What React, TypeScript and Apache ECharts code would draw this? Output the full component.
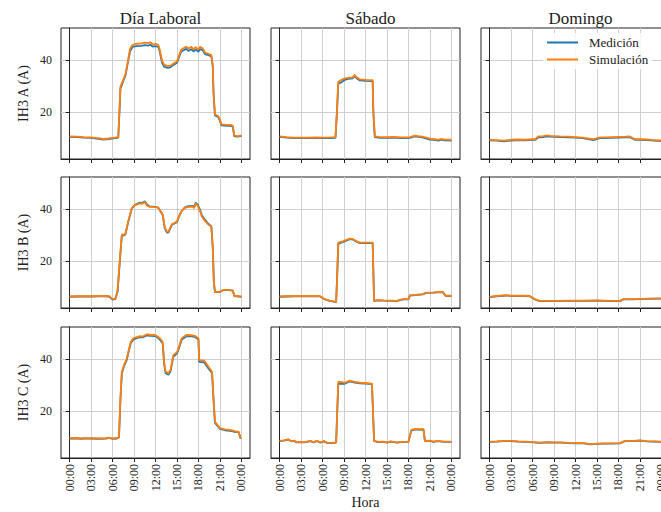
import React, { useEffect, useRef } from "react";
import * as echarts from "echarts";

type P = [number, number][];

const dayTitles = ["Día Laboral", "Sábado", "Domingo"];
const rowLabels = ["IH3 A (A)", "IH3 B (A)", "IH3 C (A)"];
const xTickValues = [0, 3, 6, 9, 12, 15, 18, 21, 24];
const yTickValues = [20, 40];
const seriesNames = ["Medición", "Simulación"];

// Día Laboral
const labA_med: P = [[0,10.3],[1,10.2],[2,10.0],[3,9.9],[4,9.6],[4.7,9.3],[5.5,9.5],[6.3,9.8],[6.8,10.0],[7.0,22],[7.1,29],[7.5,32],[7.8,34],[8.1,38.5],[8.45,43.5],[8.8,45.2],[9.3,45.5],[10,45.6],[10.5,45.9],[11,45.7],[11.3,46.0],[11.6,45.3],[12,45.5],[12.4,45.2],[12.6,43.2],[12.9,39.2],[13.2,37.5],[13.6,37.1],[14,37.2],[14.4,38],[15.0,39],[15.3,41.3],[15.6,43.4],[16,44],[16.3,44.4],[16.6,43.6],[17,44.3],[17.3,43.4],[17.6,44.2],[18,43.3],[18.2,44.3],[18.6,43.9],[18.9,42.4],[19.4,42],[19.8,41.5],[20.0,37.5],[20.1,27.5],[20.3,18.6],[20.75,18.1],[21.0,16.6],[21.2,14.8],[22,14.6],[22.5,14.6],[22.8,14.3],[23.0,10.5],[23.5,10.4],[24,10.7]];
const labA_sim: P = [[0,10.5],[1,10.4],[2,10.2],[3,10.1],[4,9.8],[4.7,9.5],[5.5,9.7],[6.3,10.0],[6.8,10.2],[7.0,23],[7.1,29.8],[7.5,32.5],[7.8,34.5],[8.1,39],[8.45,44.5],[8.8,46],[9.3,46.4],[10,46.5],[10.5,46.8],[11,46.6],[11.3,47],[11.6,46.1],[12,46.4],[12.4,46],[12.6,44],[12.9,40],[13.2,38.3],[13.6,37.8],[14,37.8],[14.4,38.5],[15.0,39.5],[15.3,42],[15.6,44.2],[16,44.8],[16.3,45.3],[16.6,44.5],[17,45.2],[17.3,44.2],[17.6,45.1],[18,44.2],[18.2,45.2],[18.6,44.6],[18.9,43],[19.4,42.5],[19.8,42],[20.0,38],[20.1,28],[20.3,19],[20.75,18.4],[21.0,17],[21.2,15.2],[22,15],[22.5,15],[22.8,14.6],[23.0,10.8],[23.5,10.6],[24,10.9]];
const labB_med: P = [[0,6.1],[1,6.2],[2,6.2],[3,6.2],[4,6.3],[5,6.3],[5.5,6.2],[6.0,5.0],[6.4,5.2],[6.7,8.0],[7.0,19],[7.3,30.0],[7.5,29.8],[7.8,30.2],[8.2,35.2],[8.7,40.4],[9.2,41.8],[9.8,42.6],[10.2,42.5],[10.5,43.1],[10.8,41.9],[11.2,41.1],[12.0,40.9],[12.4,40.6],[13.0,37.8],[13.3,32.6],[13.6,31.0],[13.8,31.0],[14.3,34.0],[15.0,35.0],[15.3,37.3],[15.65,39.3],[16.1,40.7],[16.6,41.2],[17.2,41.3],[17.4,40.8],[17.6,42.5],[17.9,41.8],[18.2,40.0],[18.5,37.5],[18.9,36.0],[19.4,34.3],[19.8,33.4],[20.0,25],[20.15,11.8],[20.3,7.9],[21,7.9],[21.5,8.7],[22.2,8.7],[22.8,8.5],[23.0,6.4],[24,6.1]];
const labB_sim: P = [[0,6.2],[1,6.3],[2,6.3],[3,6.3],[4,6.4],[5,6.4],[5.5,6.3],[6.0,5.2],[6.4,5.4],[6.7,8.4],[7.0,20],[7.3,30.3],[7.5,30.0],[7.8,30.5],[8.2,35.5],[8.7,40.6],[9.2,41.6],[9.8,42.3],[10.2,42.2],[10.5,42.8],[10.8,41.5],[11.2,40.9],[12.0,40.8],[12.4,40.6],[13.0,38],[13.3,32.9],[13.6,31.3],[13.8,31.2],[14.3,34.2],[15.0,35.2],[15.3,37.5],[15.65,39.4],[16.1,40.5],[16.6,40.9],[17.2,41.0],[17.4,40.4],[17.6,42.2],[17.9,41.4],[18.2,39.4],[18.5,37],[18.9,35.5],[19.4,34],[19.8,33.3],[20.0,25.2],[20.15,12],[20.3,8.0],[21,8.0],[21.5,8.8],[22.2,8.8],[22.8,8.6],[23.0,6.5],[24,6.2]];
const labC_med: P = [[0,9.3],[1,9.4],[1.5,9.2],[2,9.3],[3,9.3],[4,9.2],[5,9.3],[5.5,9.5],[6,9.2],[6.6,9.3],[6.9,9.7],[7.1,24],[7.3,34.6],[7.6,37.3],[8.0,39.9],[8.3,43.5],[8.55,46.3],[8.9,47.6],[9.3,48.1],[9.8,48.6],[10.2,48.5],[10.8,49.3],[11.3,49.1],[11.9,49.0],[12.3,48.4],[12.6,47.6],[13.0,46.2],[13.2,38.5],[13.4,34.6],[13.8,34.0],[14.1,35.3],[14.5,41.1],[15.0,42.2],[15.3,44.5],[15.65,47.6],[16.3,48.9],[17.0,48.9],[17.5,48.7],[18.0,47.6],[18.1,39.0],[18.8,38.8],[19.4,36.4],[19.9,34.6],[20.1,24.5],[20.3,15.4],[21.0,13.0],[21.7,12.5],[22.4,12.3],[23.3,11.8],[23.6,11.8],[23.9,9.2]];
const labC_sim: P = [[0,9.4],[1,9.5],[1.5,9.3],[2,9.4],[3,9.4],[4,9.3],[5,9.4],[5.5,9.6],[6,9.3],[6.6,9.4],[6.9,9.9],[7.1,25],[7.3,35.2],[7.6,37.8],[8.0,40.4],[8.3,44],[8.55,46.8],[8.9,48.1],[9.3,48.5],[9.8,49],[10.2,48.8],[10.8,49.7],[11.3,49.4],[11.9,49.4],[12.3,48.8],[12.6,48.1],[13.0,46.8],[13.2,39.1],[13.4,35.2],[13.8,34.6],[14.1,35.9],[14.5,41.7],[15.0,42.7],[15.3,45],[15.65,48.1],[16.3,49.4],[17.0,49.3],[17.5,49.1],[18.0,48.1],[18.1,39.7],[18.8,39.5],[19.4,37.1],[19.9,35.2],[20.1,25],[20.3,15.9],[21.0,13.3],[21.7,12.8],[22.4,12.6],[23.3,12.0],[23.6,12.0],[23.9,9.4]];

// Sábado
const satA_med: P = [[0,10.3],[1,10.0],[2,9.8],[3,9.8],[4,9.8],[5,9.9],[6,9.8],[7,9.8],[7.8,9.9],[8.0,19],[8.2,30.9],[8.6,31.4],[9.1,32.4],[9.6,32.8],[10.2,33.0],[10.5,33.9],[10.8,32.9],[11.2,32.2],[12,32.0],[13.0,31.9],[13.1,19.5],[13.3,10.2],[14,9.9],[15,9.9],[16,10.0],[17,9.8],[18.2,9.9],[18.9,10.5],[19.4,10.3],[19.8,10.2],[21.0,9.3],[21.5,9.2],[22.2,8.9],[22.5,9.2],[23,9.0],[24,8.9]];
const satA_sim: P = [[0,10.5],[1,10.2],[2,10.0],[3,10.0],[4,10.0],[5,10.1],[6,10.0],[7,10.1],[7.8,10.2],[8.0,20],[8.2,31.7],[8.6,32.3],[9.1,33.0],[9.6,33.2],[10.2,33.4],[10.5,34.3],[10.8,33.3],[11.2,32.6],[12,32.4],[13.0,32.3],[13.1,20],[13.3,10.5],[14,10.2],[15,10.2],[16,10.3],[17,10.1],[18.2,10.2],[18.9,10.8],[19.4,10.6],[19.8,10.5],[21.0,9.6],[21.5,9.5],[22.2,9.2],[22.5,9.5],[23,9.3],[24,9.2]];
const satB_med: P = [[0,6.1],[1,6.2],[2,6.3],[3,6.3],[4,6.3],[5,6.3],[5.6,6.3],[6.3,5.1],[7.0,4.5],[7.9,4.0],[8.05,14.5],[8.2,26.6],[8.9,27.4],[9.8,28.4],[10.2,28.3],[10.7,27.5],[11.2,26.9],[12,26.9],[13.0,26.9],[13.2,4.4],[13.6,4.7],[14.5,4.6],[15.5,4.5],[16.4,4.4],[16.9,4.9],[17.4,5.1],[18.0,5.1],[18.2,6.6],[19,6.7],[20.0,7.0],[20.5,7.6],[21.5,7.7],[22.8,7.9],[23.2,6.4],[24,6.4]];
const satB_sim: P = [[0,6.2],[1,6.3],[2,6.4],[3,6.4],[4,6.4],[5,6.4],[5.6,6.4],[6.3,5.2],[7.0,4.6],[7.9,4.1],[8.05,15],[8.2,27.1],[8.9,27.7],[9.8,28.6],[10.2,28.5],[10.7,27.7],[11.2,27.1],[12,27.1],[13.0,27.1],[13.2,4.5],[13.6,4.8],[14.5,4.7],[15.5,4.6],[16.4,4.5],[16.9,5.0],[17.4,5.2],[18.0,5.2],[18.2,6.7],[19,6.8],[20.0,7.1],[20.5,7.7],[21.5,7.8],[22.8,8.0],[23.2,6.5],[24,6.5]];
const satC_med: P = [[0,8.3],[0.6,8.5],[1.2,8.9],[1.6,8.2],[2.0,8.4],[2.4,7.8],[3,7.9],[3.5,7.8],[4.3,8.3],[4.7,7.8],[5.2,8.3],[5.7,7.7],[6.2,8.2],[6.6,7.6],[7.3,7.5],[7.9,7.7],[8.05,19.5],[8.2,30.6],[9.1,30.5],[9.8,31.4],[10.5,31.0],[11.2,30.7],[12,30.6],[12.9,30.4],[13.2,8.3],[13.8,7.9],[14.5,8.0],[15,7.7],[15.5,8.1],[16.4,7.7],[17,7.9],[18.0,8.0],[18.4,12.4],[19,12.8],[20.1,12.7],[20.3,8.3],[21,8.4],[21.5,8.0],[22,8.3],[23,8.0],[24,8.0]];
const satC_sim: P = [[0,8.4],[0.6,8.6],[1.2,9.0],[1.6,8.3],[2.0,8.5],[2.4,7.9],[3,8.0],[3.5,7.9],[4.3,8.4],[4.7,7.9],[5.2,8.4],[5.7,7.8],[6.2,8.3],[6.6,7.7],[7.3,7.6],[7.9,7.8],[8.05,20],[8.2,31.3],[9.1,30.9],[9.8,31.7],[10.5,31.2],[11.2,30.9],[12,30.8],[12.9,30.6],[13.2,8.4],[13.8,8.0],[14.5,8.1],[15,7.8],[15.5,8.2],[16.4,7.8],[17,8.0],[18.0,8.1],[18.4,12.6],[19,13.0],[20.1,12.9],[20.3,8.4],[21,8.5],[21.5,8.1],[22,8.4],[23,8.1],[24,8.1]];

// Domingo
const domA_med: P = [[0,9.0],[1,8.9],[2,8.6],[3,8.9],[4,9.1],[5,9.0],[6,9.2],[6.4,9.2],[6.8,10.1],[7.5,10.2],[8,10.5],[8.5,10.4],[9.8,10.2],[11,10.1],[12,10.0],[13,9.8],[14.5,9.1],[15.4,9.8],[16,9.8],[17,9.9],[18,10.0],[19,10.1],[19.6,10.2],[20.3,9.2],[21,9.2],[22,9.1],[23,8.9],[24,8.7]];
const domA_sim: P = [[0,9.2],[1,9.1],[2,8.9],[3,9.2],[4,9.3],[5,9.2],[6,9.4],[6.4,9.4],[6.8,10.5],[7.5,10.6],[8,10.9],[8.5,10.7],[9.8,10.5],[11,10.4],[12,10.2],[13,10.0],[14.5,9.4],[15.4,10.1],[16,10.1],[17,10.2],[18,10.3],[19,10.4],[19.6,10.5],[20.3,9.4],[21,9.4],[22,9.3],[23,9.1],[24,8.9]];
const domB_med: P = [[0,6.0],[1,6.3],[2.4,6.6],[3,6.4],[4,6.4],[5,6.4],[5.6,6.3],[6.3,5.1],[7.0,4.4],[9,4.4],[11,4.5],[13,4.5],[15,4.6],[17,4.4],[18.2,4.4],[18.7,5.1],[20,5.1],[22,5.3],[23.8,5.4],[24,5.4]];
const domB_sim: P = [[0,6.1],[1,6.4],[2.4,6.7],[3,6.5],[4,6.5],[5,6.5],[5.6,6.4],[6.3,5.2],[7.0,4.5],[9,4.5],[11,4.6],[13,4.6],[15,4.7],[17,4.5],[18.2,4.5],[18.7,5.2],[20,5.2],[22,5.4],[23.8,5.5],[24,5.5]];
const domC_med: P = [[0,8.0],[1,8.1],[2,8.3],[2.9,8.3],[4,8.1],[5,8.0],[6.1,7.8],[7,7.6],[8,7.8],[8.9,7.7],[10,7.7],[11,7.5],[12.2,7.4],[13,7.5],[14.0,7.0],[15,7.2],[16,7.3],[17,7.3],[18.2,7.4],[18.9,8.3],[20,8.3],[21,8.5],[22,8.2],[23,8.1],[24,8.0]];
const domC_sim: P = [[0,8.1],[1,8.2],[2,8.4],[2.9,8.4],[4,8.2],[5,8.1],[6.1,7.9],[7,7.7],[8,7.9],[8.9,7.8],[10,7.8],[11,7.6],[12.2,7.5],[13,7.6],[14.0,7.1],[15,7.3],[16,7.4],[17,7.4],[18.2,7.5],[18.9,8.4],[20,8.4],[21,8.6],[22,8.3],[23,8.2],[24,8.1]];

// panels[row][col] = [medición, simulación]
const panels: [P, P][][] = [
  [[labA_med, labA_sim], [satA_med, satA_sim], [domA_med, domA_sim]],
  [[labB_med, labB_sim], [satB_med, satB_sim], [domB_med, domB_sim]],
  [[labC_med, labC_sim], [satC_med, satC_sim], [domC_med, domC_sim]],
];

const FONT = "'Liberation Serif', 'Times New Roman', serif";
const DARK = "#222222";
const GRIDC = "#cfcfcf";
const COLORS = ["#1f77b4", "#ff7f0e"];

const colLeft = [61, 271, 481];
const rowTop = [28, 177, 327];
const PW = 189;
const PH = 131;

function fmtHour(v: number): string {
  const h = Math.round(v) % 24;
  return (h < 10 ? "0" + h : "" + h) + ":00";
}

export default function App() {
  const ref = useRef<HTMLDivElement>(null);
  useEffect(() => {
    if (!ref.current) return;
    const chart = echarts.init(ref.current, undefined, { renderer: "svg" });
    const grid: any[] = [];
    const xAxis: any[] = [];
    const yAxis: any[] = [];
    const series: any[] = [];
    for (let r = 0; r < 3; r++) {
      for (let c = 0; c < 3; c++) {
        const idx = r * 3 + c;
        grid.push({
          left: colLeft[c], top: rowTop[r], width: PW, height: PH,
          outerBoundsMode: "none", containLabel: false,
          show: true, borderColor: DARK, borderWidth: 1, backgroundColor: "transparent",
        });
        xAxis.push({
          type: "value", gridIndex: idx, min: -1.2, max: 25.2,
          axisLine: { show: true, lineStyle: { color: DARK, width: 1 } },
          axisTick: { show: true, length: 4, customValues: xTickValues, lineStyle: { color: DARK } },
          axisLabel: {
            show: r === 2, customValues: xTickValues, rotate: 90, fontSize: 12,
            fontFamily: FONT, color: DARK, margin: 6, formatter: (v: number) => fmtHour(v),
          },
          splitLine: { show: true, lineStyle: { color: GRIDC, width: 1 } },
          name: r === 2 && c === 1 ? "Hora" : "",
          nameLocation: "middle", nameGap: 37,
          nameTextStyle: { fontSize: 14, fontFamily: FONT, color: DARK },
        });
        yAxis.push({
          type: "value", gridIndex: idx, min: 1.75, max: 52.5,
          axisLine: { show: true, lineStyle: { color: DARK, width: 1 } },
          axisTick: { show: true, length: 4, customValues: yTickValues, lineStyle: { color: DARK } },
          axisLabel: {
            show: c === 0, customValues: yTickValues, fontSize: 12,
            fontFamily: FONT, color: DARK, margin: 9,
          },
          splitLine: { show: true, lineStyle: { color: GRIDC, width: 1 } },
          name: c === 0 ? rowLabels[r] : "",
          nameLocation: "middle", nameGap: 31,
          nameTextStyle: { fontSize: 14, fontFamily: FONT, color: DARK },
        });
        const pair = panels[r][c];
        for (let s = 0; s < 2; s++) {
          series.push({
            type: "line", name: seriesNames[s], xAxisIndex: idx, yAxisIndex: idx,
            data: pair[s], showSymbol: false, symbol: "none",
            lineStyle: { color: COLORS[s], width: 1.8 }, itemStyle: { color: COLORS[s] },
            z: 2 + s, silent: true,
          });
        }
      }
    }
    chart.setOption({
      animation: false,
      textStyle: { fontFamily: FONT },
      title: dayTitles.map((t, c) => ({
        text: t, left: colLeft[c] + PW / 2, top: 5, textAlign: "center",
        textStyle: { fontSize: 17, fontWeight: "normal", fontFamily: FONT, color: DARK },
      })),
      legend: {
        data: seriesNames, orient: "vertical", left: 543, top: 33,
        itemWidth: 31, itemHeight: 2, icon: "rect", itemGap: 4,
        backgroundColor: "rgba(255,255,255,0.85)", padding: [3, 4, 3, 4],
        textStyle: { fontSize: 13, fontFamily: FONT, color: DARK, padding: [0, 0, 0, 6] },
      },
      grid, xAxis, yAxis, series,
    });
    return () => chart.dispose();
  }, []);
  return (
    <div
      ref={ref}
      style={{ position: "fixed", left: 0, top: 0, width: 661, height: 512, background: "#fff" }}
    />
  );
}
